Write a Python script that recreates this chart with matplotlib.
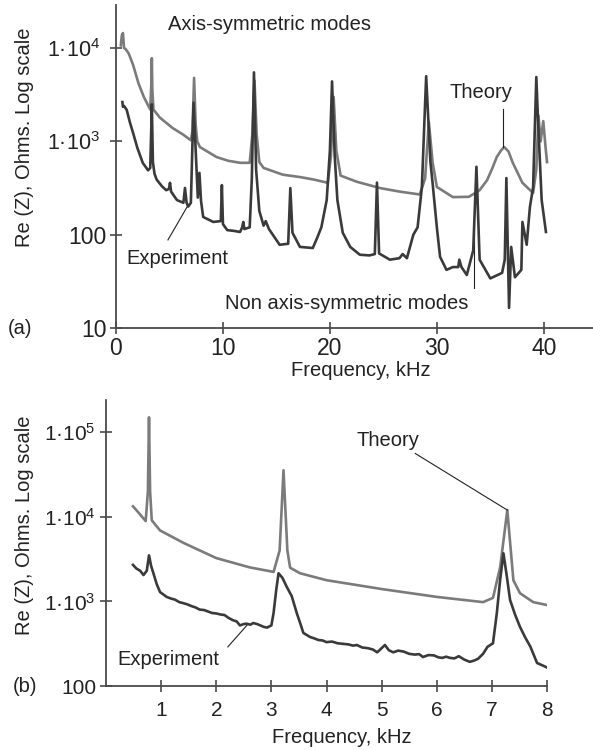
import matplotlib
matplotlib.use("Agg")
import matplotlib.pyplot as plt
from matplotlib.ticker import FixedLocator, NullLocator

plt.rcParams["font.family"] = ["Liberation Sans", "DejaVu Sans"]
plt.rcParams["mathtext.fontset"] = "custom"
plt.rcParams["mathtext.rm"] = "Liberation Sans"
plt.rcParams["mathtext.default"] = "regular"

# (a) 0-40 kHz sweep
theory_a_f = [0.45, 0.55, 0.65, 0.75, 0.9, 1.2, 1.6, 2.1, 2.6, 3.2, 3.3, 3.35, 3.4, 3.5,
              4.1, 5.3, 6.2, 7.0, 7.15, 7.3, 7.45, 7.6, 7.85, 9.4, 10.5, 11.6, 12.5,
              12.75, 12.95, 13.15, 13.4, 13.8, 15.6, 17.2, 18.5, 19.8, 20.1, 20.35,
              20.6, 21.0, 22.5, 24.7, 26.5, 28.4, 28.9, 29.25, 29.6, 30.0, 31.5, 33.0,
              34.0, 34.7, 35.2, 35.6, 36.0, 36.3, 36.7, 37.1, 38.0, 39.0, 39.3, 39.5,
              39.7, 39.95, 40.15, 40.3]
theory_a_z = [10700, 13800, 14500, 10000, 9800, 8700, 6600, 4200, 3000, 2200, 4000, 7800,
              3500, 2200, 1800, 1390, 1200, 1030, 1300, 4800, 1500, 1000, 870, 680, 620,
              590, 590, 1200, 4500, 1200, 600, 520, 440, 415, 390, 360, 700, 3000, 800,
              430, 370, 316, 290, 270, 400, 1620, 600, 325, 253, 255, 300, 385, 520, 680,
              800, 870, 780, 590, 360, 280, 500, 1900, 1000, 1650, 900, 600]

exp_a_f = [0.6, 0.65, 0.75, 1.0, 1.3, 1.6, 2.0, 2.5, 3.0, 3.2, 3.3, 3.35, 3.45, 3.6, 3.8,
           4.3, 4.7, 4.95, 5.05, 5.15, 5.7, 6.3, 6.45, 6.6, 6.75, 7.0, 7.25, 7.5, 7.65,
           7.8, 7.95, 8.15, 9.1, 9.8, 9.9, 10.0, 10.4, 11.0, 11.6, 11.8, 11.9, 12.0,
           12.5, 12.7, 12.9, 13.1, 13.4, 13.8, 14.0, 14.3, 15.3, 16.1, 16.3, 16.5, 17.2,
           18.4, 18.8, 19.2, 19.7, 20.0, 20.2, 20.45, 20.7, 21.2, 21.9, 22.8, 23.7, 24.2,
           24.4, 24.6, 25.6, 26.5, 26.8, 27.2, 27.8, 28.2, 28.6, 29.0, 29.4, 29.6, 30.0,
           30.3, 30.9, 31.5, 32.0, 32.1, 32.3, 32.8, 33.4, 33.7, 34.0, 35.0, 36.1, 36.35,
           36.5, 36.75, 36.95, 37.3, 37.9, 38.0, 38.4, 38.7, 39.0, 39.3, 39.45, 39.8,
           40.2]
exp_a_z = [2640, 2350, 2400, 2180, 1600, 1230, 850, 590, 490, 520, 1400, 2500, 600, 450,
           390, 330, 300, 310, 360, 290, 235, 220, 317, 220, 200, 220, 2600, 600, 250,
           460, 230, 155, 137, 140, 340, 130, 112, 110, 107, 120, 137, 115, 120, 400,
           5500, 500, 180, 125, 140, 115, 78, 80, 316, 105, 74, 72, 92, 120, 235, 800,
           4400, 700, 235, 105, 74, 61, 60, 62, 362, 63, 54, 56, 62, 56, 100, 120, 323,
           5000, 600, 360, 120, 58, 42, 45, 45, 54, 45, 37, 68, 535, 54, 34, 39, 54, 405,
           16.4, 74, 35, 42, 137, 78, 198, 323, 4900, 1800, 235, 107]

# (b) 0.5-8 kHz sweep
theory_b_f = [0.49, 0.6, 0.72, 0.76, 0.78, 0.80, 0.83, 0.98, 1.41, 2.0, 2.6, 3.04, 3.15,
              3.22, 3.29, 3.34, 3.52, 4.0, 5.0, 6.0, 6.84, 7.02, 7.15, 7.28, 7.39, 7.51,
              7.75, 8.02]
theory_b_z = [13300, 11000, 8900, 20000, 150000, 20000, 9100, 6900, 4900, 3250, 2530,
              2230, 4000, 35500, 4000, 2500, 2150, 1780, 1400, 1130, 980, 1100, 2530,
              12000, 1780, 1250, 980, 900]

exp_b_f = [0.49, 0.55, 0.62, 0.68, 0.74, 0.78, 0.82, 0.86, 0.92, 0.98, 1.1, 1.18, 1.25,
           1.33, 1.41, 1.48, 1.55, 1.62, 1.7, 1.78, 1.85, 1.92, 2.0, 2.08, 2.15, 2.22,
           2.3, 2.37, 2.43, 2.5, 2.55, 2.62, 2.67, 2.74, 2.8, 2.86, 2.92, 3.0, 3.04, 3.09,
           3.13, 3.2, 3.28, 3.37, 3.46, 3.52, 3.58, 3.7, 3.78, 3.85, 3.93, 4.0, 4.1, 4.2,
           4.3, 4.4, 4.48, 4.55, 4.65, 4.75, 4.84, 4.92, 5.06, 5.13, 5.21, 5.3, 5.4, 5.5,
           5.6, 5.68, 5.75, 5.85, 5.95, 6.03, 6.1, 6.17, 6.24, 6.32, 6.4, 6.5, 6.6, 6.68,
           6.75, 6.84, 6.92, 7.02, 7.09, 7.15, 7.21, 7.27, 7.33, 7.42, 7.51, 7.6, 7.7,
           7.82, 7.92, 8.02]
exp_b_z = [2700, 2450, 2300, 2050, 2300, 3500, 2600, 2150, 1600, 1290, 1130, 1080, 1050,
           980, 950, 920, 880, 850, 800, 790, 760, 730, 720, 700, 690, 640, 600, 580, 520,
           540, 545, 530, 555, 540, 520, 500, 490, 520, 730, 1400, 2150, 1900, 1480, 1150,
           730, 560, 424, 380, 365, 350, 345, 330, 335, 320, 315, 310, 300, 305, 285, 280,
           270, 250, 305, 265, 250, 262, 255, 240, 235, 238, 220, 232, 230, 218, 215, 222,
           215, 212, 225, 205, 193, 200, 210, 240, 290, 320, 730, 1800, 3700, 2000, 1040,
           700, 500, 380, 290, 187, 175, 163]

# trailing spaces keep the power-of-ten labels clear of the spine
a_yticks = [10, 100, 1e3, 1e4]
a_ylabels = ["10", "100", "1·10$^{3}$  ", "1·10$^{4}$  "]
a_xticks = [0, 10, 20, 30, 40]
b_yticks = [100, 1e3, 1e4, 1e5]
b_ylabels = ["100", "1·10$^{3}$ ", "1·10$^{4}$ ", "1·10$^{5}$ "]
b_xticks = [1, 2, 3, 4, 5, 6, 7, 8]

THEORY = "#7b7b7b"
EXPER = "#3a3a3a"
AXC = "#4a4a4a"
TXT = "#222222"
FS = 14.5


def style(ax, xticks, yticks, ylabels, digit_fs, exp_fs):
    ax.set_yscale("log")
    for s in ("top", "right"):
        ax.spines[s].set_visible(False)
    for s in ("left", "bottom"):
        ax.spines[s].set_color(AXC)
        ax.spines[s].set_linewidth(1.3)
    ax.xaxis.set_major_locator(FixedLocator(xticks))
    ax.yaxis.set_major_locator(FixedLocator(yticks))
    ax.yaxis.set_minor_locator(NullLocator())
    ax.tick_params(direction="inout", length=9, width=1.2, color=AXC,
                   labelsize=digit_fs, labelcolor=TXT, pad=2)
    for lab in ax.set_yticklabels(ylabels):
        if "$" in lab.get_text():
            lab.set_fontsize(exp_fs)
    ax.set_ylabel("Re (Z), Ohms. Log scale", fontsize=FS, color=TXT)
    ax.set_xlabel("Frequency, kHz", fontsize=FS, color=TXT)


fig = plt.figure(figsize=(5.93, 7.5), dpi=100)
kw = dict(fontsize=FS, color=TXT)

# panel (a)
ax1 = fig.add_axes([116 / 593, 1 - 328 / 750, 477 / 593, 323 / 750])
ax1.plot(theory_a_f, theory_a_z, color=THEORY, lw=1.9, zorder=2)
ax1.plot(exp_a_f, exp_a_z, color=EXPER, lw=1.9, zorder=3)
ax1.set_xlim(0, 44.6)
ax1.set_ylim(10, 29000)
style(ax1, a_xticks, a_yticks, a_ylabels, 16.5, 15.5)
ax1.yaxis.set_label_coords(-0.172, 0.59)
ax1.xaxis.set_label_coords(0.514, -0.102)
ax1.text(4.86, 17800, "Axis-symmetric modes", ha="left", va="center", **kw)
ax1.text(34.1, 3320, "Theory", ha="center", va="center", **kw)
ax1.plot([36.2, 36.2], [2200, 880], color=TXT, lw=0.8)
ax1.text(5.7, 56, "Experiment", ha="center", va="center", **kw)
ax1.plot([4.86, 6.64], [88, 198], color=TXT, lw=0.8)
ax1.text(21.6, 18.5, "Non axis-symmetric modes", ha="center", va="center", **kw)
ax1.plot([33.46, 33.46], [26.9, 104], color=TXT, lw=0.8)
fig.text(20 / 593, 1 - 328 / 750, "(a)", ha="center", va="center", **kw)

# panel (b)
ax2 = fig.add_axes([106 / 593, 1 - 686 / 750, 441 / 593, 286 / 750])
ax2.plot(theory_b_f, theory_b_z, color=THEORY, lw=1.9, zorder=2)
ax2.plot(exp_b_f, exp_b_z, color=EXPER, lw=1.9, zorder=3)
ax2.set_xlim(0, 8)
ax2.set_ylim(100, 240000)
style(ax2, b_xticks, b_yticks, b_ylabels, 15, 15)
ax2.tick_params(axis="x", pad=6)
ax2.yaxis.set_label_coords(-0.163, 0.563)
ax2.xaxis.set_label_coords(0.535, -0.147)
ax2.text(5.12, 79000, "Theory", ha="center", va="center", **kw)
ax2.plot([5.61, 7.28], [56000, 12000], color=TXT, lw=0.8)
ax2.text(1.13, 203, "Experiment", ha="center", va="center", **kw)
ax2.plot([2.21, 2.56], [290, 525], color=TXT, lw=0.8)
fig.text(25 / 593, 1 - 687 / 750, "(b)", ha="center", va="center", **kw)

fig.savefig("out.png", dpi=100)
